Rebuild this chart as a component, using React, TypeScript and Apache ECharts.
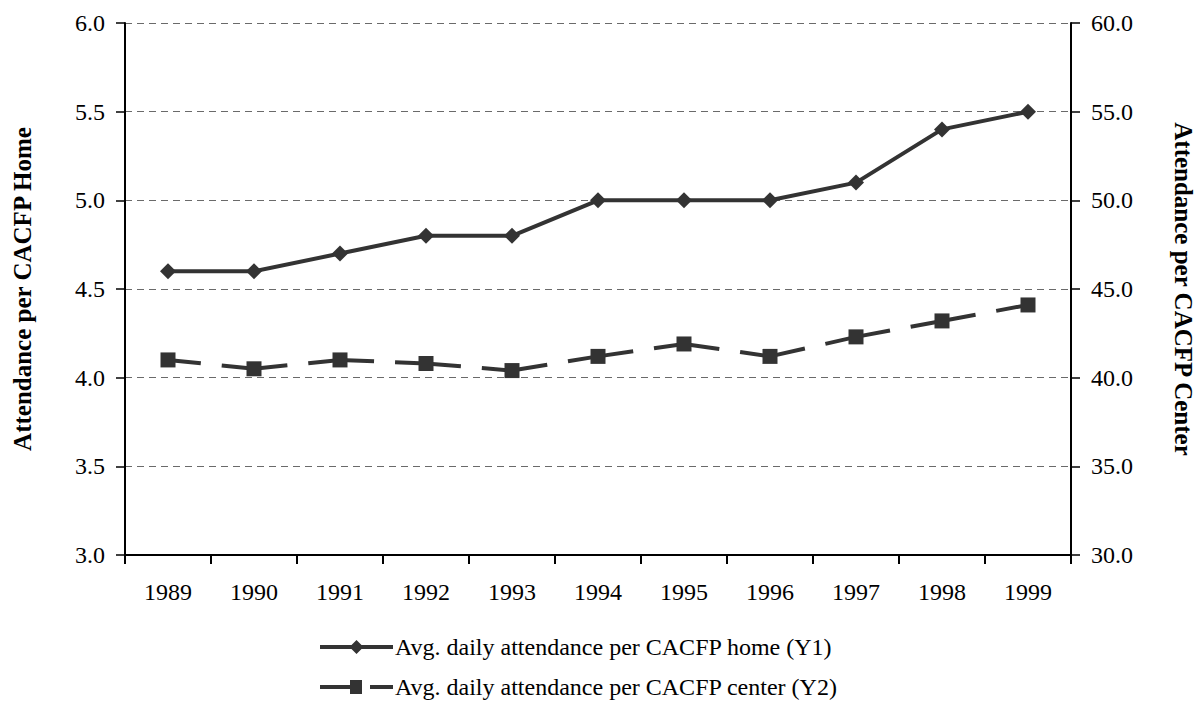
import React, { useEffect, useRef } from "react";
import * as echarts from "echarts";

const years = ["1989", "1990", "1991", "1992", "1993", "1994", "1995", "1996", "1997", "1998", "1999"];
const homeAttendance = [4.6, 4.6, 4.7, 4.8, 4.8, 5.0, 5.0, 5.0, 5.1, 5.4, 5.5];
const centerAttendance = [41.0, 40.5, 41.0, 40.8, 40.4, 41.2, 41.9, 41.2, 42.3, 43.2, 44.1];
const homeName = "Avg. daily attendance per CACFP home (Y1)";
const centerName = "Avg. daily attendance per CACFP center (Y2)";

const FONT = "'Liberation Serif', 'Times New Roman', serif";

const homeIcon =
  "path://M0 5L73 5L73 9L0 9Z M36.5 0L43.5 7L36.5 14L29.5 7Z";
const centerIcon =
  "path://M0 5L31 5L31 9L0 9Z M30 0L42 0L42 14L30 14Z M50 5L73 5L73 9L50 9Z";

export default function App() {
  const ref = useRef<HTMLDivElement>(null);
  useEffect(() => {
    if (!ref.current) return;
    const chart = echarts.init(ref.current, null, { renderer: "svg" });
    const axisText = { fontFamily: FONT, fontSize: 24, color: "#000" };
    chart.setOption({
      animation: false,
      backgroundColor: "#fff",
      textStyle: { fontFamily: FONT },
      grid: { left: 125, right: 125, top: 23, bottom: 150, containLabel: false },
      legend: {
        orient: "vertical",
        left: 315,
        top: 630,
        itemWidth: 73,
        itemHeight: 14,
        itemGap: 16,
        textStyle: { fontFamily: FONT, fontSize: 24, color: "#000", padding: [0, 0, 0, -3] },
        data: [
          { name: homeName, icon: homeIcon, itemStyle: { color: "#333", borderWidth: 0 } },
          { name: centerName, icon: centerIcon, itemStyle: { color: "#333", borderWidth: 0 } },
        ],
      },
      xAxis: {
        type: "category",
        data: years,
        boundaryGap: true,
        axisLine: { lineStyle: { color: "#000", width: 2 } },
        axisTick: { show: true, length: 9, alignWithLabel: false, lineStyle: { color: "#000", width: 2 } },
        axisLabel: { ...axisText, margin: 25 },
        splitLine: { show: false },
      },
      yAxis: [
        {
          type: "value",
          min: 3,
          max: 6,
          interval: 0.5,
          name: "Attendance per CACFP Home",
          nameLocation: "middle",
          nameGap: 90,
          nameRotate: 90,
          nameTextStyle: { fontFamily: FONT, fontSize: 25, fontWeight: "bold", color: "#000" },
          axisLine: { show: true, lineStyle: { color: "#000", width: 2 } },
          axisTick: { show: true, length: 9, lineStyle: { color: "#000", width: 1.5 } },
          axisLabel: { ...axisText, margin: 20, formatter: (v: number) => v.toFixed(1) },
          splitLine: { show: true, lineStyle: { color: "#6a6a6a", width: 1, type: [7, 5] } },
        },
        {
          type: "value",
          min: 30,
          max: 60,
          interval: 5,
          position: "right",
          name: "Attendance per CACFP Center",
          nameLocation: "middle",
          nameGap: 100,
          nameRotate: -90,
          nameTextStyle: { fontFamily: FONT, fontSize: 25, fontWeight: "bold", color: "#000" },
          axisLine: { show: true, lineStyle: { color: "#000", width: 2 } },
          axisTick: { show: true, length: 9, lineStyle: { color: "#000", width: 1.5 } },
          axisLabel: { ...axisText, margin: 20, formatter: (v: number) => v.toFixed(1) },
          splitLine: { show: false },
        },
      ],
      series: [
        {
          name: homeName,
          type: "line",
          yAxisIndex: 0,
          data: homeAttendance,
          symbol: "diamond",
          symbolSize: 16,
          lineStyle: { color: "#333", width: 4 },
          itemStyle: { color: "#333" },
        },
        {
          name: centerName,
          type: "line",
          yAxisIndex: 1,
          data: centerAttendance,
          symbol: "rect",
          symbolSize: 15,
          lineStyle: { color: "#333", width: 4, type: [66, 21], dashOffset: 33 },
          itemStyle: { color: "#333" },
        },
      ],
    });
    return () => chart.dispose();
  }, []);
  return (
    <div
      ref={ref}
      style={{ position: "absolute", left: 0, top: 0, width: 1204, height: 705 }}
    />
  );
}
